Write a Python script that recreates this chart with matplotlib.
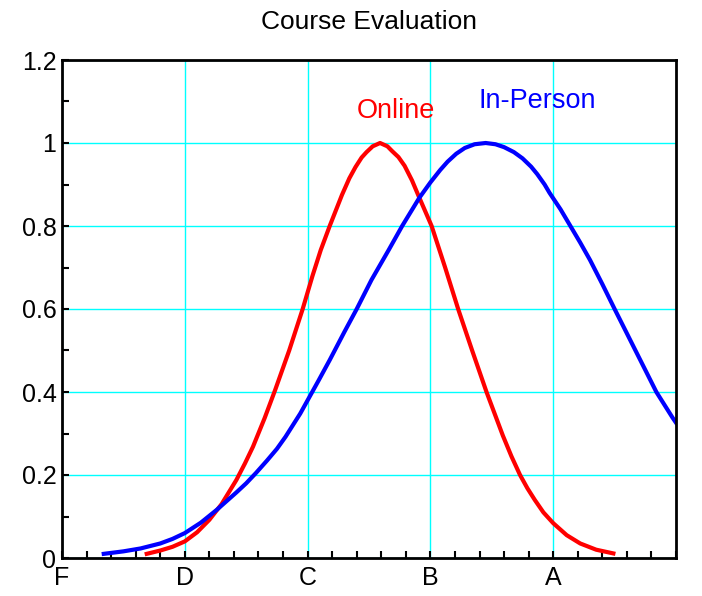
import numpy as np
import matplotlib.pyplot as plt
from matplotlib.ticker import MultipleLocator

# values
online_x = [0.69, 0.80, 0.90, 1.00, 1.10, 1.20, 1.30, 1.42, 1.49, 1.555, 1.65, 1.736,
            1.85, 1.96, 2.04, 2.107, 2.18, 2.28, 2.34, 2.39, 2.44, 2.48, 2.53, 2.59,
            2.65, 2.69, 2.74, 2.79, 2.85, 2.90, 3.01, 3.12, 3.226, 3.34, 3.457, 3.59,
            3.66, 3.73, 3.79, 3.85, 3.92, 4.00, 4.11, 4.22, 4.35, 4.49]
online_y = [0.01, 0.018, 0.027, 0.04, 0.062, 0.092, 0.13, 0.188, 0.228, 0.268, 0.337, 0.405,
            0.50, 0.60, 0.68, 0.742, 0.80, 0.875, 0.915, 0.942, 0.965, 0.978, 0.992, 1.0,
            0.992, 0.98, 0.966, 0.945, 0.91, 0.875, 0.80, 0.70, 0.60, 0.50, 0.40, 0.295,
            0.245, 0.20, 0.168, 0.14, 0.11, 0.084, 0.055, 0.035, 0.02, 0.011]

inperson_x = [0.34, 0.50, 0.64, 0.80, 0.90, 1.00, 1.13, 1.26, 1.42, 1.50, 1.58, 1.67,
              1.75, 1.82, 1.88, 1.94, 2.00, 2.09, 2.18, 2.30, 2.40, 2.52, 2.66, 2.77,
              2.91, 3.00, 3.08, 3.14, 3.21, 3.28, 3.36, 3.45, 3.53, 3.60, 3.68, 3.75,
              3.82, 3.87, 3.93, 3.97, 4.06, 4.144, 4.22, 4.30, 4.40, 4.50, 4.58, 4.67,
              4.75, 4.84, 4.97, 5.00]
inperson_y = [0.01, 0.016, 0.023, 0.035, 0.046, 0.06, 0.085, 0.116, 0.158, 0.18, 0.205, 0.235,
              0.263, 0.292, 0.32, 0.348, 0.38, 0.428, 0.477, 0.545, 0.60, 0.67, 0.742, 0.80,
              0.868, 0.905, 0.935, 0.955, 0.974, 0.988, 0.997, 1.0, 0.997, 0.99, 0.978, 0.963,
              0.943, 0.925, 0.90, 0.88, 0.84, 0.798, 0.76, 0.718, 0.66, 0.60, 0.553, 0.50,
              0.453, 0.40, 0.339, 0.326]

grade_pos = [0, 1, 2, 3, 4]
grade_labels = ["F", "D", "C", "B", "A"]

plt.rcParams['font.family'] = ['Liberation Sans', 'DejaVu Sans']

fig = plt.figure(figsize=(7.02, 5.96), dpi=100)
ax = fig.add_axes([62 / 702, 38 / 596, 614 / 702, 498 / 596])

ax.plot(online_x, online_y, color="red", lw=3, solid_joinstyle="round")
ax.plot(inperson_x, inperson_y, color="blue", lw=3, solid_joinstyle="round")

ax.text(2.72, 1.077, "Online", color="red", fontsize=19.5, ha="center", va="center")
ax.text(3.87, 1.10, "In-Person", color="blue", fontsize=19.5, ha="center", va="center")

ax.set_xlim(0, 5)
ax.set_ylim(0, 1.2)
ax.set_xticks(grade_pos)
ax.set_xticklabels(grade_labels)
ax.xaxis.set_minor_locator(MultipleLocator(0.2))
ax.set_yticks([0, 0.2, 0.4, 0.6, 0.8, 1.0, 1.2])
ax.set_yticklabels(["0", "0.2", "0.4", "0.6", "0.8", "1", "1.2"])
ax.yaxis.set_minor_locator(MultipleLocator(0.1))
ax.tick_params(which="both", direction="in", length=5, width=1.5, labelsize=18)
ax.tick_params(axis="x", pad=6)
ax.tick_params(axis="y", pad=4)
ax.grid(True, which="major", color="cyan", lw=1)
for s in ax.spines.values():
    s.set_linewidth(2)

ax.set_title("Course Evaluation", fontsize=19, pad=22)

fig.savefig("out.png", dpi=100)
